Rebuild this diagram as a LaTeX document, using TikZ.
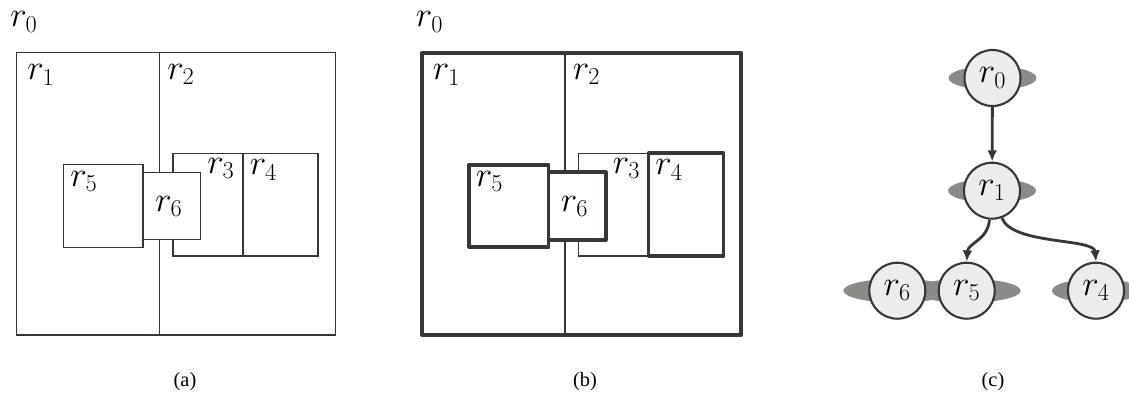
\documentclass[tikz,border=0pt]{standalone}
\usepackage[no-math]{fontspec}
\newfontfamily\capfont{Liberation Serif}
\usetikzlibrary{arrows.meta, positioning}
\definecolor{lineg}{HTML}{34383A}
\definecolor{nodefill}{HTML}{ECECEA}
\definecolor{lobeg}{HTML}{898B86}

\begin{document}
\begin{tikzpicture}[
    x=0.025cm, y=-0.025cm,
    region/.style={draw=lineg, line width=0.9pt, fill=white},
    thickregion/.style={draw=lineg, line width=2.6pt, line join=round, fill=white},
    lbl/.style={anchor=base west, inner sep=0pt, font=\fontsize{24}{28}\selectfont},
    tnode/.style={circle, draw=lineg, line width=1.5pt, fill=nodefill,
                  minimum size=1.4cm, inner sep=0pt, font=\fontsize{23}{27}\selectfont},
    lobe/.style={fill=lobeg},
    link/.style={draw=lineg, line width=2pt, -{Latex[length=8pt,width=7pt]}},
    caption/.style={font=\capfont\fontsize{14.5}{17}\selectfont},
]
\useasboundingbox (0,0) rectangle (1129,399);

% (a): the regions, all drawn thin
\draw[region] (16.7,52.7) rectangle (335.7,335);
\draw[region] (159.3,52.7) -- (159.3,335);
\draw[region] (173,153.3) rectangle (243,256);
\draw[region] (243,153.3) rectangle (318,256);
\draw[region] (63.7,164.7) rectangle (143,247.3);
\draw[region] (143,172.3) rectangle (200.3,239.7);

\node[lbl] (a0) at (10,27) {$r_0$};
\node[lbl] (a1) at (27,80) {$r_1$};
\node[lbl] (a2) at (167,79.3) {$r_2$};
\node[lbl] (a3) at (207,173.3) {$r_3$};
\node[lbl] (a4) at (249.5,175) {$r_4$};
\node[lbl] (a5) at (70,186.7) {$r_5$};
\node[lbl] (a6) at (155,211.7) {$r_6$};

% (b): same regions, the selected ones drawn thick
\begin{scope}[shift={(405.6,0)}]
\draw[thickregion] (16.7,52.7) rectangle (335.7,335);
\draw[region] (159.3,52.7) -- (159.3,335);
\draw[region] (173,153.3) rectangle (243,256);
\draw[thickregion] (243,153.3) rectangle (318,256);
\draw[thickregion] (63.7,164.7) rectangle (143,247.3);
\draw[thickregion] (143,172.3) rectangle (200.3,239.7);

\node[lbl] (b0) at (10,27) {$r_0$};
\node[lbl] (b1) at (27,80) {$r_1$};
\node[lbl] (b2) at (167,79.3) {$r_2$};
\node[lbl] (b3) at (207,173.3) {$r_3$};
\node[lbl] (b4) at (249.5,175) {$r_4$};
\node[lbl] (b5) at (70,186.7) {$r_5$};
\node[lbl] (b6) at (155,211.7) {$r_6$};
\end{scope}

% (c): the tree
\coordinate (p0) at (992.5,78);
\coordinate (p1) at (992,190.7);
\coordinate (p6) at (897.3,290.7);
\coordinate (p5) at (966.7,290.7);
\coordinate (p4) at (1096,290.7);

\fill[lobe] (p0) ellipse [x radius=1.1cm, y radius=0.3cm];
\fill[lobe] (p1) ellipse [x radius=1.1cm, y radius=0.3cm];
\fill[lobe] (p6) ellipse [x radius=1.35cm, y radius=0.3cm];
\fill[lobe] (p5) ellipse [x radius=1.35cm, y radius=0.3cm];
\fill[lobe] (p4) ellipse [x radius=1.1cm, y radius=0.3cm];

\node[tnode] (n0) at (p0) {$r_0$};
\node[tnode] (n1) at (p1) {$r_1$};
\node[tnode] (n6) at (p6) {$r_6$};
\node[tnode] (n5) at (p5) {$r_5$};
\node[tnode] (n4) at (p4) {$r_4$};

\draw[link] (n0) -- (n1);
\draw[link] (n1.-95) .. controls (988,240) and (968,243) .. (n5.north);
\draw[link] (n1.-70) .. controls (1012,245) and (1094,238) .. (n4.north);

% captions
\node[caption] (capa) at (185,382) {(a)};
\node[caption] (capb) at (585,382) {(b)};
\node[caption] (capc) at (993,382) {(c)};

\end{tikzpicture}
\end{document}
